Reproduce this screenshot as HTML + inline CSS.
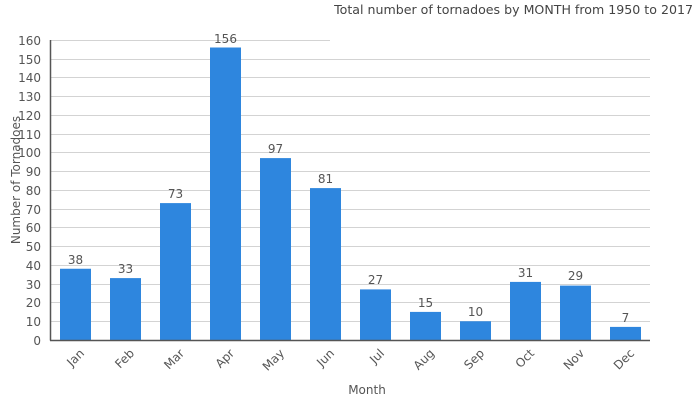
<!DOCTYPE html>
<html><head><style>body{margin:0;background:#fff}</style></head><body>
<svg width="700" height="400" xmlns="http://www.w3.org/2000/svg" font-family="DejaVu Sans, Liberation Sans, sans-serif">
<rect width="700" height="400" fill="#fff"/>
<text x="693" y="14" text-anchor="end" font-size="12.6" fill="#444">Total number of tornadoes by MONTH from 1950 to 2017</text>
<g stroke="#d3d3d3" stroke-width="1">
<line x1="50" x2="330" y1="40.5" y2="40.5"/>
<line x1="50" x2="650" y1="59.5" y2="59.5"/>
<line x1="50" x2="650" y1="77.5" y2="77.5"/>
<line x1="50" x2="650" y1="96.5" y2="96.5"/>
<line x1="50" x2="650" y1="115.5" y2="115.5"/>
<line x1="50" x2="650" y1="134.5" y2="134.5"/>
<line x1="50" x2="650" y1="152.5" y2="152.5"/>
<line x1="50" x2="650" y1="171.5" y2="171.5"/>
<line x1="50" x2="650" y1="190.5" y2="190.5"/>
<line x1="50" x2="650" y1="209.5" y2="209.5"/>
<line x1="50" x2="650" y1="227.5" y2="227.5"/>
<line x1="50" x2="650" y1="246.5" y2="246.5"/>
<line x1="50" x2="650" y1="265.5" y2="265.5"/>
<line x1="50" x2="650" y1="284.5" y2="284.5"/>
<line x1="50" x2="650" y1="302.5" y2="302.5"/>
<line x1="50" x2="650" y1="321.5" y2="321.5"/>
</g>
<g fill="#2e86de">
<rect x="60" y="268.75" width="31" height="71.25"/>
<rect x="110" y="278.1" width="31" height="61.9"/>
<rect x="160" y="203.1" width="31" height="136.9"/>
<rect x="210" y="47.5" width="31" height="292.5"/>
<rect x="260" y="158.1" width="31" height="181.9"/>
<rect x="310" y="188.1" width="31" height="151.9"/>
<rect x="360" y="289.4" width="31" height="50.6"/>
<rect x="410" y="311.9" width="31" height="28.1"/>
<rect x="460" y="321.25" width="31" height="18.75"/>
<rect x="510" y="281.9" width="31" height="58.1"/>
<rect x="560" y="285.6" width="31" height="54.4"/>
<rect x="610" y="326.9" width="31" height="13.1"/>
</g>
<g font-size="12" fill="#555" text-anchor="middle">
<text x="75.5" y="264">38</text><text x="125.5" y="273">33</text><text x="175.5" y="198">73</text>
<text x="225.5" y="43">156</text><text x="275.5" y="153">97</text><text x="325.5" y="183">81</text>
<text x="375.5" y="284">27</text><text x="425.5" y="307">15</text><text x="475.5" y="316">10</text>
<text x="525.5" y="277">31</text><text x="575.5" y="280">29</text><text x="625.5" y="322">7</text>
</g>
<g stroke="#555" stroke-width="1.5"><line x1="50.5" y1="40" x2="50.5" y2="340.5"/><line x1="50" y1="340.5" x2="650" y2="340.5"/></g>
<g font-size="12" fill="#555" text-anchor="end">
<text x="41" y="45">160</text><text x="41" y="64">150</text><text x="41" y="82">140</text><text x="41" y="101">130</text>
<text x="41" y="120">120</text><text x="41" y="139">110</text><text x="41" y="157">100</text><text x="41" y="176">90</text>
<text x="41" y="195">80</text><text x="41" y="214">70</text><text x="41" y="232">60</text><text x="41" y="251">50</text>
<text x="41" y="270">40</text><text x="41" y="289">30</text><text x="41" y="307">20</text><text x="41" y="326">10</text><text x="41" y="345">0</text>
</g>
<g font-size="12" fill="#555" text-anchor="end">
<text transform="translate(85,354) rotate(-45)">Jan</text>
<text transform="translate(135,354) rotate(-45)">Feb</text>
<text transform="translate(185,354) rotate(-45)">Mar</text>
<text transform="translate(235,354) rotate(-45)">Apr</text>
<text transform="translate(285,354) rotate(-45)">May</text>
<text transform="translate(335,354) rotate(-45)">Jun</text>
<text transform="translate(385,354) rotate(-45)">Jul</text>
<text transform="translate(435,354) rotate(-45)">Aug</text>
<text transform="translate(485,354) rotate(-45)">Sep</text>
<text transform="translate(535,354) rotate(-45)">Oct</text>
<text transform="translate(585,354) rotate(-45)">Nov</text>
<text transform="translate(635,354) rotate(-45)">Dec</text>
</g>
<text x="367" y="394" font-size="12" fill="#555" text-anchor="middle">Month</text>
<text transform="translate(20,180) rotate(-90)" font-size="12" fill="#555" text-anchor="middle">Number of Tornadoes</text>
</svg>
</body></html>
